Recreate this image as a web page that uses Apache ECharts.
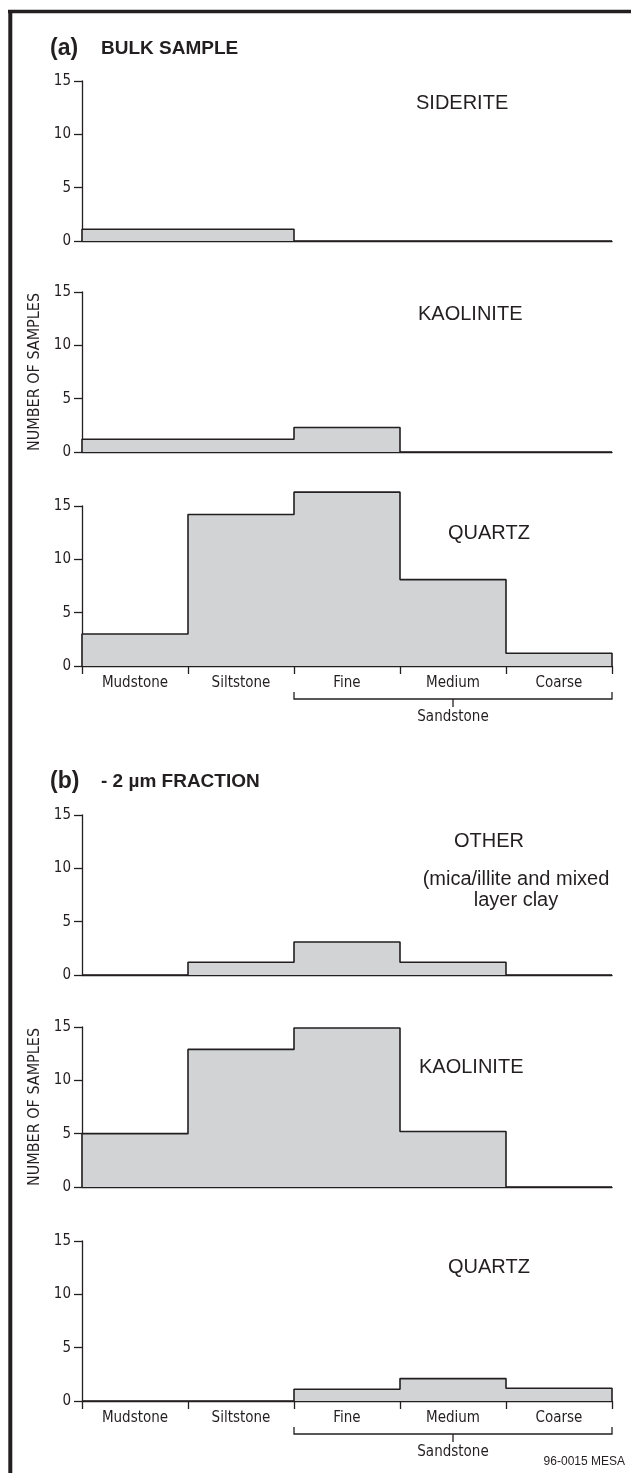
<!DOCTYPE html>
<html>
<head>
<meta charset="utf-8">
<script src="https://cdn.jsdelivr.net/npm/echarts@6/dist/echarts.min.js"></script>
<style>
html, body { margin: 0; padding: 0; background: #fff; }
#main { width: 631px; height: 1473px; }
</style>
</head>
<body>
<div id="main"></div>
<script>
// grain-size classes and y ticks
var categories = ['Mudstone', 'Siltstone', 'Fine', 'Medium', 'Coarse'];
var yTicks = [0, 5, 10, 15];

// (a) bulk sample
var bulkSiderite = [1.1, 1.1, 0, 0, 0];
var bulkKaolinite = [1.2, 1.2, 2.3, 0, 0];
var bulkQuartz = [3.0, 14.2, 16.3, 8.1, 1.2];

// (b) -2 um fraction
var fineOther = [0, 1.2, 3.1, 1.2, 0];
var fineKaolinite = [5.0, 12.9, 14.9, 5.2, 0];
var fineQuartz = [0, 0, 1.1, 2.1, 1.2];

var panelNames = ['SIDERITE', 'KAOLINITE', 'QUARTZ', 'OTHER', 'KAOLINITE', 'QUARTZ'];
var panelData = [bulkSiderite, bulkKaolinite, bulkQuartz, fineOther, fineKaolinite, fineQuartz];

// layout: top (value 15) / bottom (value 0) of each plot, label place
var layout = [
    { top: 81,   bottom: 241,  lx: 411, ly: 88,   labels: false, yname: false },
    { top: 292,  bottom: 452,  lx: 413, ly: 299,  labels: false, yname: true },
    { top: 506,  bottom: 666,  lx: 443, ly: 518,  labels: true,  yname: false },
    { top: 815,  bottom: 975,  lx: 449, ly: 826,  labels: false, yname: false },
    { top: 1027, bottom: 1187, lx: 414, ly: 1052, labels: false, yname: true },
    { top: 1241, bottom: 1401, lx: 443, ly: 1252, labels: true,  yname: false }
];

var ink = '#231f20';
var narrow = "'Liberation Sans Narrow', 'DejaVu Sans Condensed', 'Liberation Sans', sans-serif";
var plain = "'Liberation Sans', Arial, sans-serif";

// closed step outline: left edge, one flat per class, right edge
function stepPoints(vals) {
    var pts = [[0, 0]];
    vals.forEach(function (v, i) { pts.push([i, v]); });
    pts.push([vals.length, vals[vals.length - 1]]);
    pts.push([vals.length, 0]);
    return pts;
}

var chart = echarts.init(document.getElementById('main'));

var grids = [], xAxes = [], yAxes = [], series = [], titles = [];

layout.forEach(function (p, i) {
    grids.push({ left: 82, width: 530, top: p.top, height: p.bottom - p.top });
    // category axis: ticks and names
    xAxes.push({
        type: 'category', gridIndex: i, data: categories, boundaryGap: true,
        axisLine: { lineStyle: { color: ink, width: 1.4 } },
        axisTick: { show: p.labels, length: 8, lineStyle: { color: ink, width: 1.3 } },
        axisLabel: { show: p.labels, color: ink, fontFamily: narrow, fontSize: 15, margin: 10 }
    });
    // value axis that places the step outline
    xAxes.push({ type: 'value', gridIndex: i, min: 0, max: categories.length, show: false });
    yAxes.push({
        type: 'value', gridIndex: i,
        min: yTicks[0], max: yTicks[yTicks.length - 1], interval: yTicks[1] - yTicks[0],
        axisLine: { show: true, lineStyle: { color: ink, width: 1.3 } },
        axisTick: { show: true, length: 8, lineStyle: { color: ink, width: 1.3 } },
        axisLabel: { color: ink, fontFamily: narrow, fontSize: 15, margin: 11 },
        splitLine: { show: false },
        name: p.yname ? 'NUMBER OF SAMPLES' : '',
        nameLocation: 'middle', nameRotate: 90, nameGap: 33,
        nameTextStyle: { color: ink, fontFamily: narrow, fontSize: 16 }
    });
    series.push({
        type: 'line', xAxisIndex: 2 * i + 1, yAxisIndex: i,
        step: 'end', symbol: 'none', clip: false, silent: true,
        data: stepPoints(panelData[i]),
        lineStyle: { color: ink, width: 1.6 },
        areaStyle: { color: '#d1d3d4', opacity: 1 }
    });
    titles.push({
        text: panelNames[i], left: p.lx, top: p.ly,
        textStyle: { color: ink, fontFamily: plain, fontSize: 20, fontWeight: 'normal' }
    });
});

// headings and note
titles.push({ text: '(a)', left: 45, top: 32, textStyle: { color: ink, fontFamily: plain, fontSize: 23, fontWeight: 'bold' } });
titles.push({ text: 'BULK SAMPLE', left: 96, top: 34, textStyle: { color: ink, fontFamily: plain, fontSize: 19, fontWeight: 'bold' } });
titles.push({ text: '(b)', left: 45, top: 765, textStyle: { color: ink, fontFamily: plain, fontSize: 23, fontWeight: 'bold' } });
titles.push({ text: '- 2 µm FRACTION', left: 96, top: 767, textStyle: { color: ink, fontFamily: plain, fontSize: 19, fontWeight: 'bold' } });
titles.push({
    text: '(mica/illite and mixed\nlayer clay', left: 511, top: 864, textAlign: 'center',
    textStyle: { color: ink, fontFamily: plain, fontSize: 20, fontWeight: 'normal', lineHeight: 21, align: 'center' }
});

chart.setOption({
    animation: false,
    title: titles,
    grid: grids,
    xAxis: xAxes,
    yAxis: yAxes,
    series: series
});

// frame, sandstone brackets and figure number
var graphics = [
    { type: 'line', shape: { x1: 8, y1: 11.5, x2: 631, y2: 11.5 }, style: { stroke: ink, lineWidth: 3.5 } },
    { type: 'line', shape: { x1: 10.3, y1: 10, x2: 10.3, y2: 1473 }, style: { stroke: ink, lineWidth: 4 } },
    { type: 'text', right: 6, top: 1456, style: { text: '96-0015 MESA', fill: ink, font: '12px ' + plain } }
];
layout.forEach(function (p, i) {
    if (!p.labels) return;
    var x0 = chart.convertToPixel({ xAxisIndex: 2 * i + 1 }, 2);
    var x1 = chart.convertToPixel({ xAxisIndex: 2 * i + 1 }, categories.length);
    var xm = (x0 + x1) / 2;
    var y0 = chart.convertToPixel({ yAxisIndex: i }, 0);
    var yb = y0 + 33;
    graphics.push({
        type: 'polyline',
        shape: { points: [[x0, yb - 7], [x0, yb], [x1, yb], [x1, yb - 7]] },
        style: { stroke: ink, lineWidth: 1.3, fill: null }
    });
    graphics.push({ type: 'line', shape: { x1: xm, y1: yb, x2: xm, y2: yb + 8 }, style: { stroke: ink, lineWidth: 1.3 } });
    graphics.push({
        type: 'text', x: xm, y: yb + 18,
        style: { text: 'Sandstone', fill: ink, font: '15px ' + narrow, textAlign: 'center', textVerticalAlign: 'middle' }
    });
});
chart.setOption({ graphic: graphics });
</script>
</body>
</html>
